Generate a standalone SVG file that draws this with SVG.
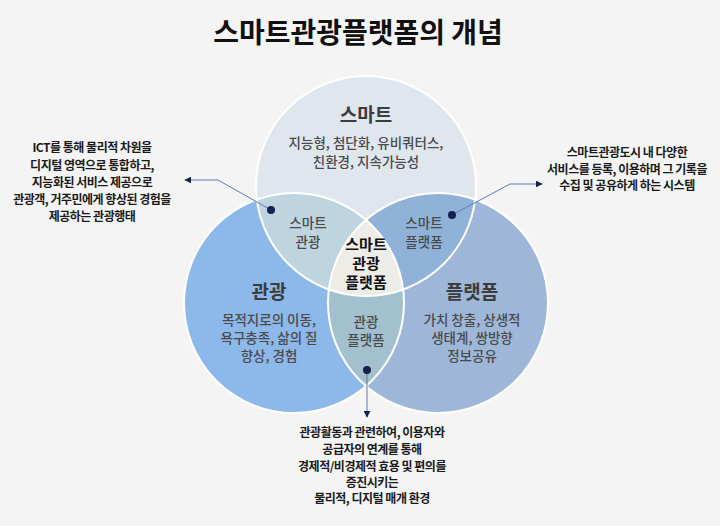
<svg xmlns="http://www.w3.org/2000/svg" width="720" height="526" viewBox="0 0 720 526">
<defs>
<style>
text{font-family:"Noto Sans CJK KR","Noto Sans",sans-serif;text-anchor:middle}
.title{font-size:28px;font-weight:bold;fill:#111}
.lab{font-size:19px;font-weight:bold;fill:#3c3c3c}
.sub{font-size:13.5px;font-weight:500;fill:#4a4a4a}
.lens{font-size:13.5px;font-weight:500;fill:#4a4a4a}
.core{font-size:15px;font-weight:bold;fill:#111}
.note{font-size:12px;font-weight:bold;fill:#1a1a1a;letter-spacing:-0.5px}
.conn{fill:none;stroke:#5a7db3;stroke-width:1}
.dot{fill:#13224f}
.edge{fill:none;stroke:#ffffff;stroke-width:2}
</style>
<marker id="arr" viewBox="0 0 10 10" refX="9" refY="5" markerWidth="7" markerHeight="7" markerUnits="userSpaceOnUse" orient="auto">
<path d="M0,0 L10,5 L0,10 Z" fill="#13224f"/>
</marker>
</defs>
<rect width="720" height="526" fill="#f4f4f4"/>
<text class="title" x="358" y="43">스마트관광플랫폼의 개념</text>

<g id="smart">
<circle cx="366" cy="186" r="110" fill="#dfe6ee"/>
</g>
<g id="tourism">
<circle cx="294" cy="303" r="110" fill="#8db8ea"/>
</g>
<g id="platform">
<circle cx="438" cy="303" r="110" fill="#9eb7d8"/>
</g>
<g id="smart-tourism">
<path d="M256.82,199.47 A110,110 0 0 1 403.18,289.53 A110,110 0 0 1 256.82,199.47 Z" fill="#bed5df"/>
</g>
<g id="smart-platform">
<path d="M328.82,289.53 A110,110 0 0 1 475.18,199.47 A110,110 0 0 1 328.82,289.53 Z" fill="#90b1d8"/>
</g>
<g id="tourism-platform">
<path d="M366,219.8 A110,110 0 0 1 366,386.2 A110,110 0 0 1 366,219.8 Z" fill="#a2c0cd"/>
</g>
<g id="core">
<path d="M366,219.8 A110,110 0 0 1 403.18,289.53 A110,110 0 0 1 328.82,289.53 A110,110 0 0 1 366,219.8 Z" fill="#edece7"/>
</g>
<g id="edges">
<circle class="edge" cx="366" cy="186" r="110"/>
<circle class="edge" cx="294" cy="303" r="110"/>
<circle class="edge" cx="438" cy="303" r="110"/>
</g>

<g id="labels">
<text class="lab" x="366" y="122">스마트</text>
<text class="sub" x="366" y="148">지능형, 첨단화, 유비쿼터스,</text>
<text class="sub" x="366" y="167">친환경, 지속가능성</text>

<text class="lab" x="269" y="299">관광</text>
<text class="sub" x="269" y="325">목적지로의 이동,</text>
<text class="sub" x="269" y="343">욕구충족, 삶의 질</text>
<text class="sub" x="269" y="361">향상, 경험</text>

<text class="lab" x="472" y="299">플랫폼</text>
<text class="sub" x="472" y="325">가치 창출, 상생적</text>
<text class="sub" x="472" y="343">생태계, 쌍방향</text>
<text class="sub" x="472" y="361">정보공유</text>

<text class="lens" x="308" y="228">스마트</text>
<text class="lens" x="308" y="247">관광</text>
<text class="lens" x="424" y="228">스마트</text>
<text class="lens" x="424" y="247">플랫폼</text>
<text class="lens" x="366" y="327">관광</text>
<text class="lens" x="366" y="345">플랫폼</text>

<text class="core" x="366" y="250">스마트</text>
<text class="core" x="366" y="269">관광</text>
<text class="core" x="366" y="288">플랫폼</text>
</g>

<g id="connectors">
<polyline class="conn" points="271,210 218,180 185,180" marker-end="url(#arr)"/>
<polyline class="conn" points="452,215 510,184 542,184" marker-end="url(#arr)"/>
<polyline class="conn" points="367,370 367,417" marker-end="url(#arr)"/>
<circle class="dot" cx="271" cy="210" r="4"/>
<circle class="dot" cx="452" cy="215" r="4"/>
<circle class="dot" cx="367" cy="370" r="4"/>
</g>

<g id="note-left">
<text class="note" x="92" y="152">ICT를 통해 물리적 차원을</text>
<text class="note" x="92" y="170">디지털 영역으로 통합하고,</text>
<text class="note" x="92" y="187">지능화된 서비스 제공으로</text>
<text class="note" x="92" y="204">관광객, 거주민에게 향상된 경험을</text>
<text class="note" x="92" y="221">제공하는 관광행태</text>
</g>
<g id="note-right">
<text class="note" x="627" y="157">스마트관광도시 내 다양한</text>
<text class="note" x="627" y="174">서비스를 등록, 이용하며 그 기록을</text>
<text class="note" x="627" y="190">수집 및 공유하게 하는 시스템</text>
</g>
<g id="note-bottom">
<text class="note" x="372" y="437">관광활동과 관련하여, 이용자와</text>
<text class="note" x="372" y="454">공급자의 연계를 통해</text>
<text class="note" x="372" y="471">경제적/비경제적 효용 및 편의를</text>
<text class="note" x="372" y="487">증진시키는</text>
<text class="note" x="372" y="503">물리적, 디지털 매개 환경</text>
</g>
</svg>
